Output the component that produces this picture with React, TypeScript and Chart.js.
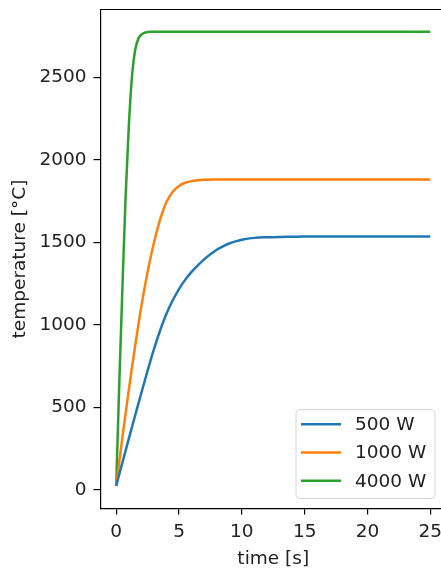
import React, { useEffect, useRef } from "react";
import { Chart, registerables } from "chart.js";

Chart.register(...registerables);

const timeS = [0, 0.25, 0.5, 0.75, 1, 1.25, 1.5, 1.75, 2, 2.25, 2.5, 2.75, 3, 3.5, 4, 4.5, 5, 5.5, 6, 6.5, 7, 7.5, 8, 8.5, 9, 9.5, 10, 11, 12, 13, 14, 15, 17.5, 20, 22.5, 25];
const temp500W = [25, 97, 168, 239, 310, 380, 450, 519, 588, 656, 724, 789, 852, 968, 1068, 1150, 1218, 1275, 1322, 1362, 1398, 1429, 1456, 1477, 1494, 1507, 1517, 1528, 1532, 1534, 1535, 1536, 1536, 1536, 1536, 1536];
const temp1000W = [25, 175, 322, 465, 605, 740, 870, 995, 1112, 1222, 1322, 1414, 1497, 1640, 1745, 1808, 1843, 1862, 1872, 1877, 1880, 1881, 1882, 1882, 1882, 1882, 1882, 1882, 1882, 1882, 1882, 1882, 1882, 1882, 1882, 1882];
const temp4000W = [25, 660, 1240, 1780, 2200, 2500, 2662, 2733, 2760, 2771, 2775, 2777, 2777, 2777, 2777, 2777, 2777, 2777, 2777, 2777, 2777, 2777, 2777, 2777, 2777, 2777, 2777, 2777, 2777, 2777, 2777, 2777, 2777, 2777, 2777, 2777];
const seriesLabels = ["500 W", "1000 W", "4000 W"];
const seriesColors = ["#1f77b4", "#ff7f0e", "#2ca02c"];
const xTickValues = [0, 5, 10, 15, 20, 25];
const yTickValues = [0, 500, 1000, 1500, 2000, 2500];
const xTitle = "time [s]";
const yTitle = "temperature [°C]";

const FONT = "'DejaVu Sans', sans-serif";
const FS = 18.5;

const framePlugin = {
  id: "frame",
  afterDraw(chart: any) {
    const { ctx, chartArea } = chart;
    ctx.save();
    ctx.strokeStyle = "#000";
    ctx.lineWidth = 1.2;
    ctx.beginPath();
    ctx.moveTo(chartArea.left, chartArea.top);
    ctx.lineTo(chartArea.right, chartArea.top);
    ctx.lineTo(chartArea.right, chartArea.bottom);
    ctx.stroke();

    // legend (lower right)
    const bx = 296, by = 409.5, bw = 139, bh = 89, r = 4;
    ctx.beginPath();
    ctx.moveTo(bx + r, by);
    ctx.lineTo(bx + bw - r, by);
    ctx.arcTo(bx + bw, by, bx + bw, by + r, r);
    ctx.lineTo(bx + bw, by + bh - r);
    ctx.arcTo(bx + bw, by + bh, bx + bw - r, by + bh, r);
    ctx.lineTo(bx + r, by + bh);
    ctx.arcTo(bx, by + bh, bx, by + bh - r, r);
    ctx.lineTo(bx, by + r);
    ctx.arcTo(bx, by, bx + r, by, r);
    ctx.closePath();
    ctx.fillStyle = "rgba(255,255,255,0.8)";
    ctx.fill();
    ctx.strokeStyle = "#d6d6d6";
    ctx.lineWidth = 1;
    ctx.stroke();

    ctx.font = `${FS}px ${FONT}`;
    ctx.textBaseline = "middle";
    ctx.textAlign = "left";
    chart.data.datasets.forEach((ds: any, i: number) => {
      const y = 424.3 + i * 28.2;
      ctx.strokeStyle = ds.borderColor;
      ctx.lineWidth = 2.5;
      ctx.beginPath();
      ctx.moveTo(301, y);
      ctx.lineTo(341, y);
      ctx.stroke();
      ctx.fillStyle = "#222";
      ctx.fillText(ds.label, 355, y + 1);
    });
    ctx.restore();
  },
};

export default function App() {
  const ref = useRef<HTMLCanvasElement>(null);
  useEffect(() => {
    if (!ref.current) return;
    Chart.defaults.font.family = FONT;
    Chart.defaults.font.size = FS;
    Chart.defaults.color = "#222";
    const series = [temp500W, temp1000W, temp4000W];
    const chart = new Chart(ref.current, {
      type: "line",
      data: {
        datasets: series.map((vals, i) => ({
          label: seriesLabels[i],
          data: timeS.map((t, j) => ({ x: t, y: vals[j] })),
          borderColor: seriesColors[i],
          backgroundColor: seriesColors[i],
          borderWidth: 2.5,
          pointRadius: 0,
          cubicInterpolationMode: "monotone" as const,
          fill: false,
        })),
      },
      options: {
        animation: false,
        responsive: false,
        events: [],
        layout: { padding: { top: 9.5, right: 4, left: 0, bottom: 0 } },
        plugins: { legend: { display: false }, tooltip: { enabled: false } },
        scales: {
          x: {
            type: "linear",
            min: -1.25,
            max: 26.25,
            afterFit: (s: any) => { s.height = 59.5; s.paddingLeft = 0; s.paddingRight = 0; },
            afterBuildTicks: (s: any) => { s.ticks = xTickValues.map((v) => ({ value: v })); },
            ticks: { padding: 7, maxRotation: 0, autoSkip: false, callback: (v: any) => String(v) },
            grid: { drawOnChartArea: false, drawTicks: true, tickLength: 6, color: "#000", lineWidth: 1.2 },
            border: { display: true, color: "#000", width: 1.2 },
            title: { display: true, text: xTitle, padding: { top: 0, bottom: 0 }, font: { size: FS, lineHeight: 1.0 } },
          },
          y: {
            type: "linear",
            min: -112,
            max: 2912,
            afterFit: (s: any) => { s.width = 100.5; s.paddingTop = 0; s.paddingBottom = 0; },
            afterBuildTicks: (s: any) => { s.ticks = yTickValues.map((v) => ({ value: v })); },
            ticks: { padding: 7, autoSkip: false, callback: (v: any) => String(v) },
            grid: { drawOnChartArea: false, drawTicks: true, tickLength: 7, color: "#000", lineWidth: 1.2 },
            border: { display: true, color: "#000", width: 1.2 },
            title: { display: true, text: yTitle, padding: { top: 9, bottom: 0 }, font: { size: FS, lineHeight: 1.2 } },
          },
        },
      },
      plugins: [framePlugin],
    });
    return () => chart.destroy();
  }, []);
  return (
    <div style={{ position: "fixed", left: 0, top: 0, width: 441, height: 568, overflow: "hidden", background: "#fff" }}>
      <canvas ref={ref} width={450} height={568} style={{ width: 450, height: 568, display: "block" }} />
    </div>
  );
}
